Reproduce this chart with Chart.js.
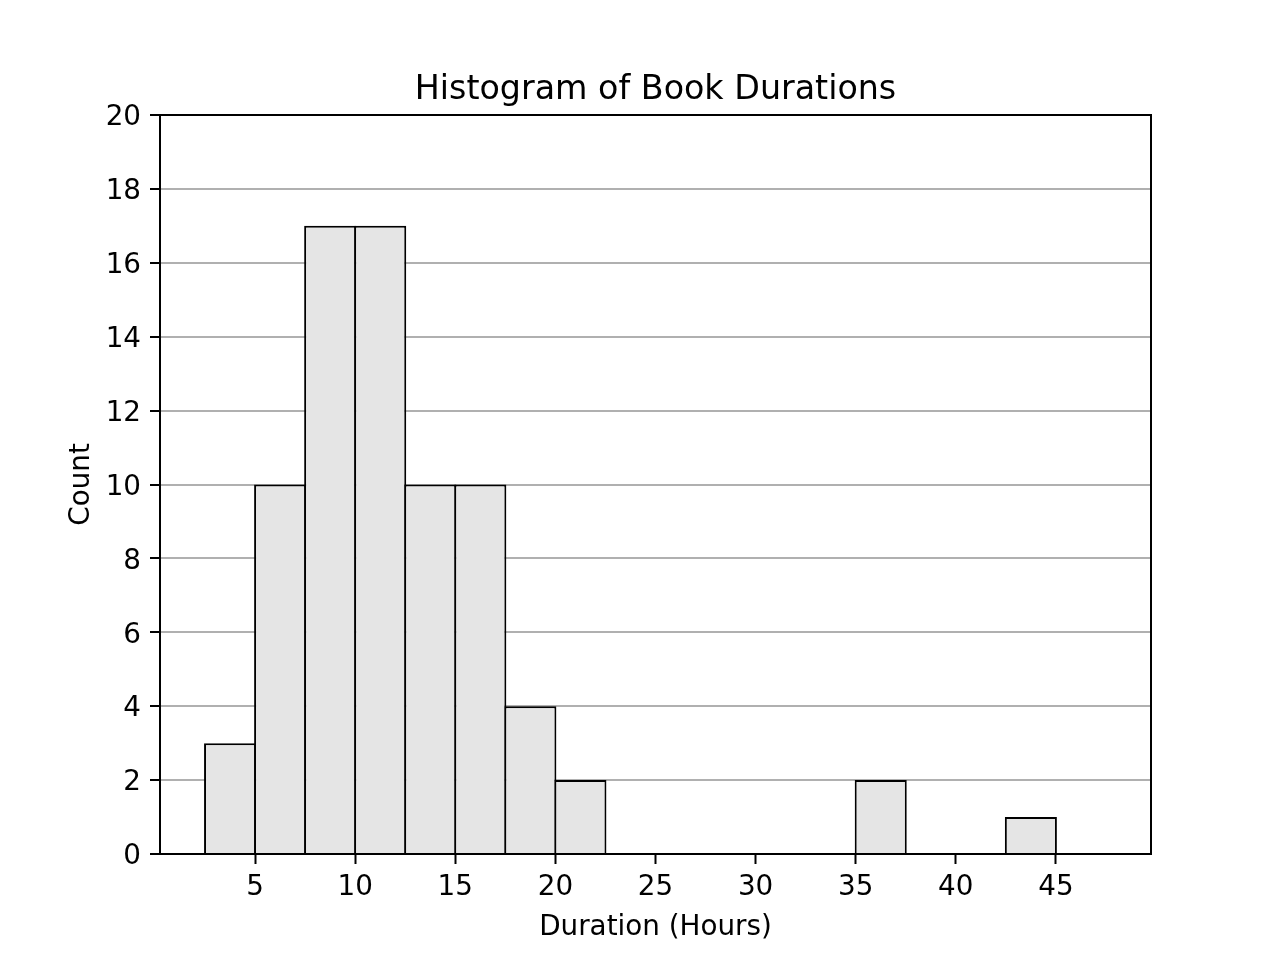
<!DOCTYPE html>
<html lang="en">
<head>
    <meta charset="UTF-8">
    <title>Histogram of Book Durations</title>
    <script src="https://cdn.jsdelivr.net/npm/chart.js"></script>
    <style>
        body {
            margin: 0;
            background-color: white;
        }
        canvas {
            display: block;
        }
    </style>
</head>
<body>
    <canvas id="histChart" width="1280" height="960"></canvas>

    <script>
        // histogram data, bins of 2.5 hours
        const chartTitle = 'Histogram of Book Durations';
        const binStarts = [2.5, 5, 7.5, 10, 12.5, 15, 17.5, 20, 22.5, 25, 27.5, 30, 32.5, 35, 37.5, 40, 42.5, 45];
        const binWidth = 2.5;
        const counts = [3, 10, 17, 17, 10, 10, 4, 2, 0, 0, 0, 0, 0, 2, 0, 0, 1, 0];
        const xTicks = [5, 10, 15, 20, 25, 30, 35, 40, 45];
        const yTicks = [0, 2, 4, 6, 8, 10, 12, 14, 16, 18, 20];

        const tickFont = { family: 'DejaVu Sans', size: 27.8 };

        // frame round the axes + title centred on the plot area
        const framePlugin = {
            id: 'frame',
            afterDatasetsDraw(chart) {
                const { ctx, chartArea: a } = chart;
                ctx.save();
                ctx.strokeStyle = '#000';
                ctx.lineWidth = 2;
                ctx.strokeRect(a.left, a.top, a.right - a.left, a.bottom - a.top);
                ctx.fillStyle = '#000';
                ctx.font = '33.3px "DejaVu Sans"';
                ctx.textAlign = 'center';
                ctx.textBaseline = 'alphabetic';
                ctx.fillText(chartTitle, (a.left + a.right) / 2, a.top - 16);
                ctx.restore();
            }
        };

        const ctx = document.getElementById('histChart').getContext('2d');
        new Chart(ctx, {
            type: 'bar',
            data: {
                datasets: [{
                    data: binStarts.map((s, i) => ({ x: s + binWidth / 2, y: counts[i] })),
                    backgroundColor: '#e5e5e5',
                    borderColor: '#000',
                    borderWidth: 2,
                    borderSkipped: 'start',
                    barPercentage: 1.04,
                    categoryPercentage: 1
                }]
            },
            options: {
                responsive: false,
                animation: false,
                devicePixelRatio: 1,
                layout: { padding: { top: 115, right: 129, bottom: 0, left: 0 } },
                plugins: {
                    legend: { display: false },
                    title: { display: false },
                    tooltip: { enabled: false }
                },
                scales: {
                    x: {
                        type: 'linear',
                        min: 0.25,
                        max: 49.75,
                        offset: false,
                        afterBuildTicks: (scale) => { scale.ticks = xTicks.map(v => ({ value: v })); },
                        afterFit: (scale) => { scale.height = 106; },
                        grid: {
                            offset: false,
                            drawOnChartArea: false,
                            tickLength: 10,
                            tickWidth: 2,
                            tickColor: '#000'
                        },
                        border: { display: false },
                        ticks: {
                            color: '#000',
                            font: tickFont,
                            padding: 7.5,
                            maxRotation: 0,
                            autoSkip: false,
                            callback: (v) => String(v)
                        },
                        title: {
                            display: true,
                            text: 'Duration (Hours)',
                            color: '#000',
                            font: tickFont,
                            padding: { top: 0, bottom: 16 }
                        }
                    },
                    y: {
                        min: 0,
                        max: 20,
                        afterBuildTicks: (scale) => { scale.ticks = yTicks.map(v => ({ value: v })); },
                        afterFit: (scale) => { scale.width = 160; },
                        grid: {
                            color: '#b0b0b0',
                            lineWidth: 2,
                            tickLength: 10,
                            tickWidth: 2,
                            tickColor: '#000'
                        },
                        border: { display: false },
                        ticks: {
                            color: '#000',
                            font: tickFont,
                            padding: 9,
                            labelOffset: 3
                        },
                        title: {
                            display: true,
                            text: 'Count',
                            color: '#000',
                            font: tickFont,
                            padding: { top: 65, bottom: 0 }
                        }
                    }
                }
            },
            plugins: [framePlugin]
        });
    </script>
</body>
</html>
